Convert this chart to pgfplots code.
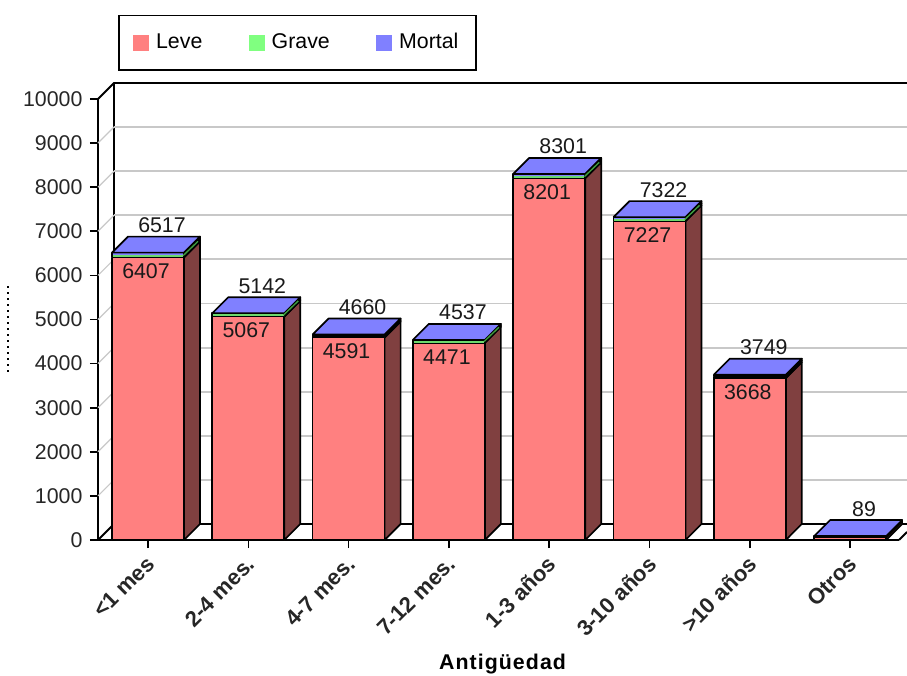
\documentclass[border=0pt]{standalone}
\usepackage{pgfplots}
\pgfplotsset{compat=1.18}
\usepackage{fontspec}
\setmainfont{Liberation Sans}
\definecolor{leve}{HTML}{FF8080}
\definecolor{levesd}{HTML}{804040}
\definecolor{grave}{HTML}{80FF80}
\definecolor{gravesd}{HTML}{40A040}
\definecolor{mortal}{HTML}{8080FF}
\definecolor{mortalsd}{HTML}{404080}
\definecolor{gridc}{HTML}{C8C8C8}
\newcommand{\px}[1]{#1*0.75pt}
\newcommand{\fs}{\fontsize{16}{16}\selectfont}
% x unit 100.3px, y unit 0.0441px
\def\dX{0.1595}\def\dY{362.8}\def\hw{0.359}
\newcommand{\slab}[5]{% x, y0, y1, front colour, side colour
  \pgfmathsetmacro{\xa}{#1-\hw}\pgfmathsetmacro{\xb}{#1+\hw}
  \pgfmathsetmacro{\xc}{\xb+\dX}
  \pgfmathsetmacro{\ya}{#2+\dY}\pgfmathsetmacro{\yb}{#3+\dY}
  \addplot[forget plot,draw=black,line width=1.25pt,fill=#5,line join=round] coordinates {(\xb,#2)(\xc,\ya)(\xc,\yb)(\xb,#3)(\xb,#2)};
  \addplot[forget plot,draw=black,line width=1.25pt,fill=#4,line join=round] coordinates {(\xa,#2)(\xb,#2)(\xb,#3)(\xa,#3)(\xa,#2)};
}
\newcommand{\onebar}[4]{% x, leve, leve+grave, total
  \slab{#1}{0}{#2}{leve}{levesd}
  \slab{#1}{#2}{#3}{grave}{gravesd}
  \slab{#1}{#3}{#4}{mortal}{mortalsd}
  \pgfmathsetmacro{\xa}{#1-\hw}\pgfmathsetmacro{\xb}{#1+\hw}
  \pgfmathsetmacro{\xc}{\xb+\dX}\pgfmathsetmacro{\xd}{\xa+\dX}
  \pgfmathsetmacro{\yb}{#4+\dY}
  \addplot[forget plot,draw=black,line width=1.25pt,fill=mortal,line join=round] coordinates {(\xa,#4)(\xb,#4)(\xc,\yb)(\xd,\yb)(\xa,#4)};
}
\newcommand{\greenband}[2]{% x, y of the Grave band
  \pgfmathsetmacro{\xa}{#1-\hw+0.008}\pgfmathsetmacro{\xb}{#1+\hw-0.008}
  \pgfmathsetmacro{\xc}{#1+\hw+\dX-0.02}\pgfmathsetmacro{\yb}{#2+\dY-40}
  \addplot[forget plot,draw=grave!85!black,line width=1.5pt] coordinates {(\xa,#2)(\xb,#2)};
  \addplot[forget plot,draw=gravesd,line width=1pt] coordinates {(\xb,#2)(\xc,\yb)};
}
\newcommand{\wallgrid}[1]{%
  \pgfmathsetmacro{\yb}{#1+\dY}
  \addplot[forget plot,draw=gridc,line width=1.4pt] coordinates {(-0.339,\yb)(7.5673,\yb)};
  \addplot[forget plot,draw=gridc,line width=0.9pt] coordinates {(-0.4985,#1)(-0.339,\yb)};
}
\begin{document}
\begin{tikzpicture}[x=1pt,y=1pt]
\path[use as bounding box] (-73.5pt,-101.25pt) rectangle (606.75pt,405pt);
\begin{axis}[
  at={(0,0)},anchor=south west,
  scale only axis,
  width=\px{801}, height=\px{441},
  xmin=-0.4985,xmax=7.4875,ymin=0,ymax=10000,
  axis lines=left,
  axis line style={-,line width=1.4pt,black},
  clip=false,
  tick align=outside,
  major tick length=6pt,
  tick style={line width=1.2pt,black},
  scaled y ticks=false,
  /pgf/number format/assume math mode=true,
  /pgf/number format/set thousands separator={},
  xtick={0,1,2,3,4,5,6,7},
  xticklabels={<1 mes,2-4 mes.,4-7 mes.,7-12 mes.,1-3 años,3-10 años,>10 años,Otros},
  x tick label style={font=\fontsize{16.5}{16.5}\selectfont\bfseries,rotate=45,anchor=north east,inner sep=1pt,xshift=-4pt,yshift=-1pt,text=black!85},
  ytick={0,1000,...,10000},
  y tick label style={font=\fs,inner sep=2pt,xshift=-3.5pt,text=black!85},
  xlabel={Antigüedad},
  xlabel style={font=\fontsize{16}{16}\selectfont\bfseries\addfontfeature{LetterSpace=5},at={(axis description cs:0.505,0)},anchor=base,yshift=-97pt},
  legend columns=3,
  legend style={at={(axis description cs:0,1)},anchor=south west,xshift=15pt,yshift=21pt,draw=black,line width=1.2pt,
    font=\fs,inner xsep=11pt,inner ysep=11pt,
    nodes={text height=11.5pt,text depth=3.5pt,inner sep=2pt},
    /tikz/every even column/.style={column sep=33pt}},
  legend image code/.code={\fill[draw=none,#1] (0pt,-6pt) rectangle (12pt,6pt);\path[draw=none,fill=none] (0pt,0pt) -- (15pt,0pt);},
]
% back walls
\addplot[forget plot,draw=black,line width=1.4pt] coordinates {(-0.4985,10000)(-0.339,10362.8)(7.5673,10362.8)};
\addplot[forget plot,draw=black,line width=1.4pt] coordinates {(-0.339,10362.8)(-0.339,362.8)(7.5673,362.8)};
\addplot[forget plot,draw=black,line width=1.4pt] coordinates {(-0.4985,0)(-0.339,362.8)};
\addplot[forget plot,draw=black,line width=1.4pt] coordinates {(7.4875,0)(7.5673,181.4)};
\wallgrid{1000}\wallgrid{2000}\wallgrid{3000}\wallgrid{4000}\wallgrid{5000}
\wallgrid{6000}\wallgrid{7000}\wallgrid{8000}\wallgrid{9000}
% bars: position, Leve, Leve+Grave, total
\onebar{0}{6407}{6450}{6517}
\onebar{1}{5067}{5100}{5142}
\onebar{2}{4591}{4625}{4660}
\onebar{3}{4471}{4500}{4537}
\onebar{4}{8201}{8240}{8301}
\onebar{5}{7227}{7265}{7322}
\onebar{6}{3668}{3710}{3749}
\onebar{7}{70}{80}{89}
\greenband{0}{6450}\greenband{1}{5100}\greenband{3}{4500}\greenband{4}{8240}\greenband{5}{7265}
% value labels
\addplot[forget plot,only marks,mark=none,point meta=y,
  nodes near coords,
  nodes near coords style={font=\fs,anchor=base,inner sep=0pt,xshift=10.5pt,yshift=15pt,text=black!90},
] coordinates {(0,6517)(1,5142)(2,4660)(3,4537)(4,8301)(5,7322)(6,3749)(7,89)};
\addplot[forget plot,only marks,mark=none,point meta=y,
  nodes near coords,
  nodes near coords style={font=\fs,anchor=base,inner sep=0pt,xshift=-1.5pt,yshift=-16pt,text=black!90},
] coordinates {(0,6407)(1,5067)(2,4591)(3,4471)(4,8201)(5,7227)(6,3668)};
\addlegendimage{fill=leve}\addlegendentry{Leve}
\addlegendimage{fill=grave}\addlegendentry{Grave}
\addlegendimage{fill=mortal}\addlegendentry{Mortal}
\end{axis}
\draw[line width=1.5pt,dash pattern=on 1.5pt off 3pt] (-67.5pt,126pt) -- (-67.5pt,191pt);
\end{tikzpicture}
\end{document}
